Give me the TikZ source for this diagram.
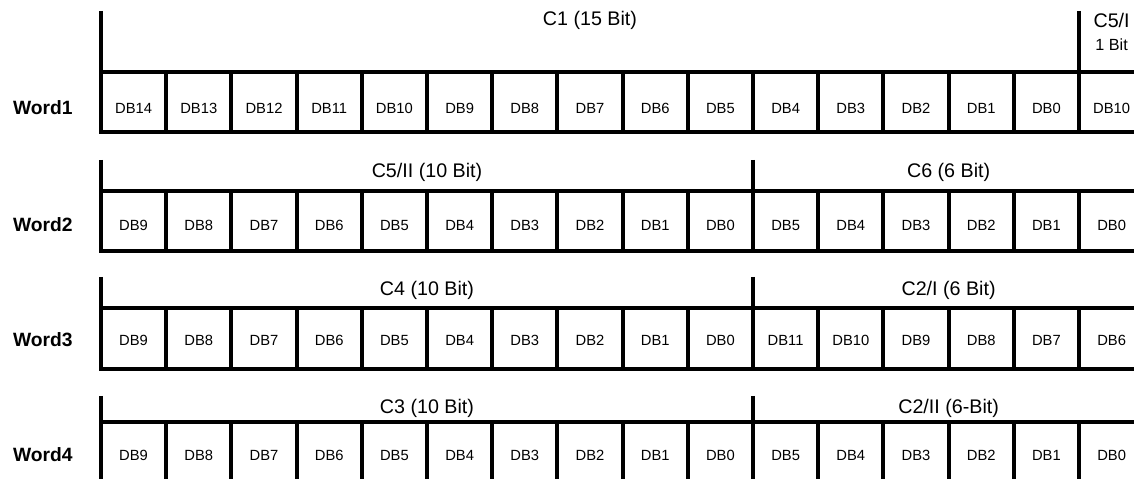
\documentclass[tikz,border=0pt]{standalone}
\usepackage{fontspec}
\setsansfont{Liberation Sans}
\usetikzlibrary{calc}

\tikzset{
bit/.style={font=\sffamily\fontsize{10.5}{12}\selectfont},
field/.style={font=\sffamily\fontsize{14}{16}\selectfont},
fieldsmall/.style={font=\sffamily\fontsize{11.5}{13}\selectfont},
word/.style={font=\sffamily\bfseries\fontsize{13.7}{16}\selectfont}
}

\begin{document}
\begin{tikzpicture}[font=\sffamily,line width=2.8pt]
\useasboundingbox (0,0) rectangle (28.35,11.95);

%%Word1
\draw (2.525,11.675)--(2.525,8.65)--(28.6,8.65);
\draw (2.525,10.15)--(28.6,10.15);
\draw (26.975,11.675)--(26.975,10.15);
\foreach \i in {1,...,16}
\draw ({2.525+\i*1.63},10.15)--({2.525+\i*1.63},8.65);
\foreach \t [count=\i from 0] in {DB14,DB13,DB12,DB11,DB10,DB9,DB8,DB7,%
DB6,DB5,DB4,DB3,DB2,DB1,DB0,DB10}
\node[bit](WA\i) at ({2.525+(\i+0.5)*1.63},9.25){\t};
\node[word](WA) at (1.07,9.25){Word1};
\node[field](C1) at (14.75,11.45){C1 (15 Bit)};
\node[field](C5I) at (27.79,11.45){C5/I};
\node[fieldsmall](C5Ib) at (27.79,10.825){1 Bit};

%%Word2
\draw (2.525,7.95)--(2.525,5.675)--(28.6,5.675);
\draw (2.525,7.175)--(28.6,7.175);
\draw (18.825,7.95)--(18.825,7.175);
\foreach \i in {1,...,16}
\draw ({2.525+\i*1.63},7.175)--({2.525+\i*1.63},5.675);
\foreach \t [count=\i from 0] in {DB9,DB8,DB7,DB6,DB5,DB4,DB3,DB2,DB1,DB0,%
DB5,DB4,DB3,DB2,DB1,DB0}
\node[bit](WB\i) at ({2.525+(\i+0.5)*1.63},6.325){\t};
\node[word](WB) at (1.07,6.325){Word2};
\node[field](C5II) at (10.675,7.65){C5/II (10 Bit)};
\node[field](C6) at (23.715,7.65){C6 (6 Bit)};

%%Word3
\draw (2.525,5.025)--(2.525,2.725)--(28.6,2.725);
\draw (2.525,4.25)--(28.6,4.25);
\draw (18.825,5.025)--(18.825,4.25);
\foreach \i in {1,...,16}
\draw ({2.525+\i*1.63},4.25)--({2.525+\i*1.63},2.725);
\foreach \t [count=\i from 0] in {DB9,DB8,DB7,DB6,DB5,DB4,DB3,DB2,DB1,DB0,%
DB11,DB10,DB9,DB8,DB7,DB6}
\node[bit](WC\i) at ({2.525+(\i+0.5)*1.63},3.45){\t};
\node[word](WC) at (1.07,3.45){Word3};
\node[field](C4) at (10.675,4.7){C4 (10 Bit)};
\node[field](C2I) at (23.715,4.7){C2/I (6 Bit)};

%%Word4
\draw (2.525,2.05)--(2.525,-0.1);
\draw (2.525,1.4)--(28.6,1.4);
\draw (18.825,2.05)--(18.825,1.4);
\foreach \i in {1,...,16}
\draw ({2.525+\i*1.63},1.4)--({2.525+\i*1.63},-0.1);
\foreach \t [count=\i from 0] in {DB9,DB8,DB7,DB6,DB5,DB4,DB3,DB2,DB1,DB0,%
DB5,DB4,DB3,DB2,DB1,DB0}
\node[bit](WD\i) at ({2.525+(\i+0.5)*1.63},0.575){\t};
\node[word](WD) at (1.07,0.575){Word4};
\node[field](C3) at (10.675,1.75){C3 (10 Bit)};
\node[field](C2II) at (23.715,1.75){C2/II (6-Bit)};
\end{tikzpicture}
\end{document}
